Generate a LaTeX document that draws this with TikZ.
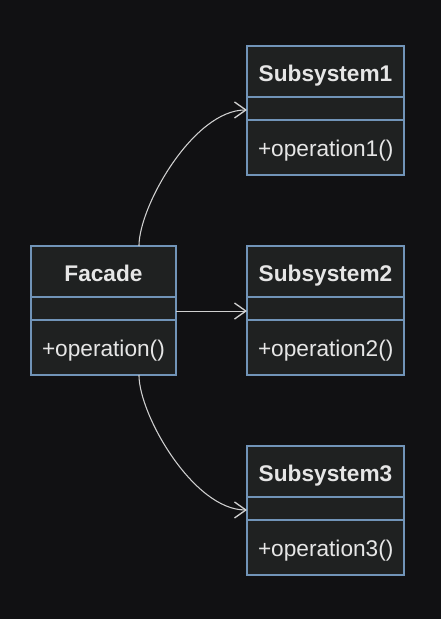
\documentclass[tikz,border=0pt]{standalone}
\usepackage{fontspec}
\setmainfont{Liberation Sans}
\usetikzlibrary{positioning,arrows.meta}
\definecolor{bgcol}{HTML}{111113}
\definecolor{boxfill}{HTML}{1F2121}
\definecolor{boxline}{HTML}{7194B8}
\definecolor{txtcol}{HTML}{E6E6E6}
\definecolor{linkcol}{HTML}{D0D0D0}
\tikzset{
    px/.style={x={(0.75pt,0)},y={(0,-0.75pt)}},
    part/.style={draw=boxline,fill=boxfill,text=txtcol,line width=0.8pt,inner sep=0pt,outer sep=0pt,
        font=\fontsize{17}{20}\selectfont},
    ctitle/.style={part,minimum height=38.25pt,text height=15.2pt,text depth=0pt,font=\fontsize{17}{20}\selectfont\bfseries},
    cattr/.style={part,minimum height=17.25pt,below=0pt of #1},
    cmeth/.style={part,minimum height=41.25pt,text height=15.5pt,text depth=1.8pt,align=left,inner xsep=8.25pt,below=0pt of #1},
    link/.style={draw=linkcol,line width=0.8pt,-{Straight Barb[length=8.5pt,width=12pt,line width=1pt]}}
}
\begin{document}
\begin{tikzpicture}[px]
    \fill[bgcol] (0,0) rectangle (441,619);
    \useasboundingbox (0,0) rectangle (441,619);
    % Facade
    \node[ctitle,minimum width=108.75pt] (fac) at (103.5,271.5) {Facade};
    \node[cattr=fac,minimum width=108.75pt] (facA) {};
    \node[cmeth=facA,text width=92.25pt] (facM) {+operation()};
    % Subsysteme
    \foreach \i/\y in {1/71.5,2/271.5,3/471.5} {
        \node[ctitle,minimum width=117.75pt] (sub\i) at (325.5,\y) {Subsystem\i};
        \node[cattr=sub\i,minimum width=117.75pt] (sub\i A) {};
        \node[cmeth=sub\i A,text width=101.25pt] (sub\i M) {+operation\i()};
    }
    \draw[link] ([xshift=26.6pt]fac.north) .. controls ([xshift=26.6pt,yshift=30pt]fac.north) and ([xshift=-40pt,yshift=-1.1pt]sub1A.west) .. ([yshift=-1.1pt]sub1A.west);
    \draw[link] ([yshift=-1.9pt]facA.east) -- ([yshift=-1.9pt]sub2A.west);
    \draw[link] ([xshift=26.6pt]facM.south) .. controls ([xshift=26.6pt,yshift=-30pt]facM.south) and ([xshift=-40pt,yshift=-1.1pt]sub3A.west) .. ([yshift=-1.1pt]sub3A.west);
\end{tikzpicture}
\end{document}
